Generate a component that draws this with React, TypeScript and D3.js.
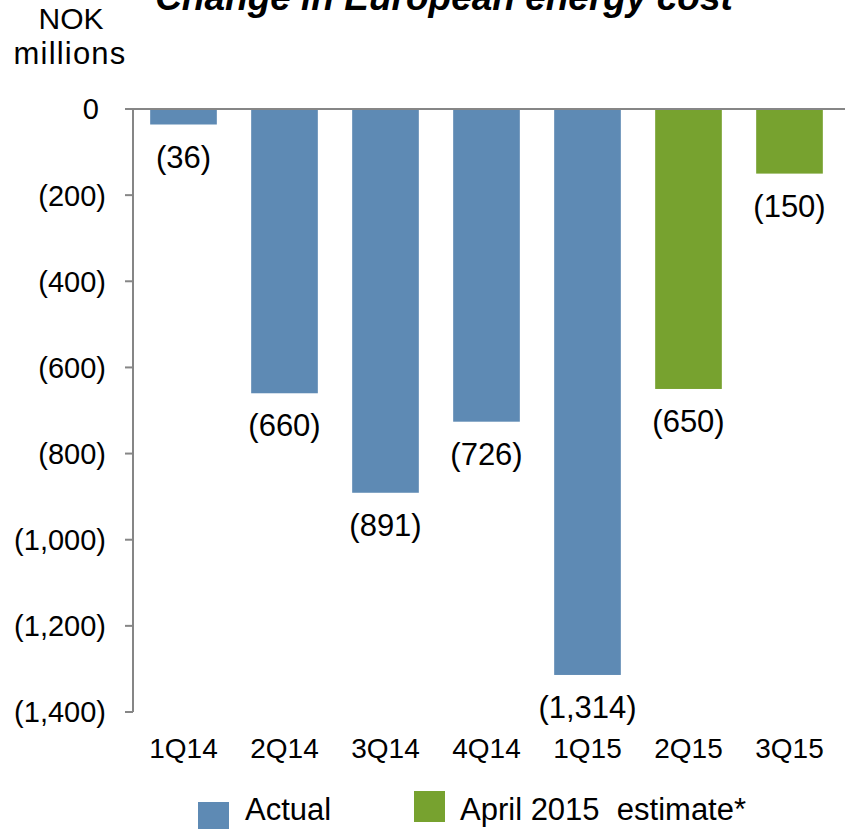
import React from "react";
import * as d3 from "d3";

const categories = ["1Q14", "2Q14", "3Q14", "4Q14", "1Q15", "2Q15", "3Q15"];
const values = [-36, -660, -891, -726, -1314, -650, -150];
const seriesOf = ["Actual", "Actual", "Actual", "Actual", "Actual", "Estimate", "Estimate"];
const yTicks = [0, -200, -400, -600, -800, -1000, -1200, -1400];
const legendItems = [
  { key: "Actual", label: "Actual" },
  { key: "Estimate", label: "April 2015  estimate*" },
];
const colors: Record<string, string> = { Actual: "#5E8AB4", Estimate: "#77A22F" };

const W = 848;
const H = 829;
const font = "'Liberation Sans', Arial, sans-serif";

function fmt(v: number) {
  if (v === 0) return "0";
  return "(" + d3.format(",")(Math.abs(v)) + ")";
}

export default function App() {
  const y = d3.scaleLinear().domain([0, -1400]).range([109, 712]);
  const x = d3.scaleBand<string>().domain(categories).range([133, 840]).paddingInner(0.34).paddingOuter(0.17);
  const axisColor = "#868686";
  return (
    <svg width={W} height={H} style={{ position: "absolute", left: 0, top: 0, background: "#fff" }} fontFamily={font}>
      <text x={444} y={10} textAnchor="middle" fontSize={37} fontWeight="bold" fontStyle="italic" fill="#000">
        Change in European energy cost
      </text>
      <text x={71} y={29} textAnchor="middle" fontSize={30} fill="#000">NOK</text>
      <text x={70} y={64} textAnchor="middle" fontSize={31} letterSpacing={1.2} fill="#000">millions</text>
      {/* bars */}
      {categories.map((c, i) => (
        <rect key={c} x={x(c)} y={y(0)} width={x.bandwidth()} height={y(values[i]) - y(0)} fill={colors[seriesOf[i]]} />
      ))}
      {/* zero line */}
      <line x1={125} x2={845} y1={y(0)} y2={y(0)} stroke={axisColor} strokeWidth={2} />
      {/* y axis */}
      <line x1={133} x2={133} y1={y(0)} y2={y(-1400)} stroke={axisColor} strokeWidth={2} />
      {yTicks.map((t) => (
        <g key={t}>
          <line x1={125} x2={133} y1={y(t)} y2={y(t)} stroke={axisColor} strokeWidth={2} />
          <text x={t === 0 ? 99 : 106} y={y(t)} dy="0.36em" textAnchor="end" fontSize={29} fill="#000">{fmt(t)}</text>
        </g>
      ))}
      {/* data labels */}
      {categories.map((c, i) => (
        <text key={c} x={(x(c) as number) + x.bandwidth() / 2} y={y(values[i]) + 32} dy="0.36em" textAnchor="middle" fontSize={31} fill="#000">
          {fmt(values[i])}
        </text>
      ))}
      {/* x labels */}
      {categories.map((c) => (
        <text key={c} x={(x(c) as number) + x.bandwidth() / 2} y={748} dy="0.36em" textAnchor="middle" fontSize={28} fill="#000">
          {c}
        </text>
      ))}
      {/* legend */}
      <rect x={198} y={802} width={31} height={27} fill={colors[legendItems[0].key]} />
      <text x={245} y={820} fontSize={31} fill="#000">{legendItems[0].label}</text>
      <rect x={414} y={791} width={31} height={31} fill={colors[legendItems[1].key]} />
      <text x={460} y={820} fontSize={31} fill="#000" style={{ whiteSpace: "pre" }}>{legendItems[1].label}</text>
    </svg>
  );
}
